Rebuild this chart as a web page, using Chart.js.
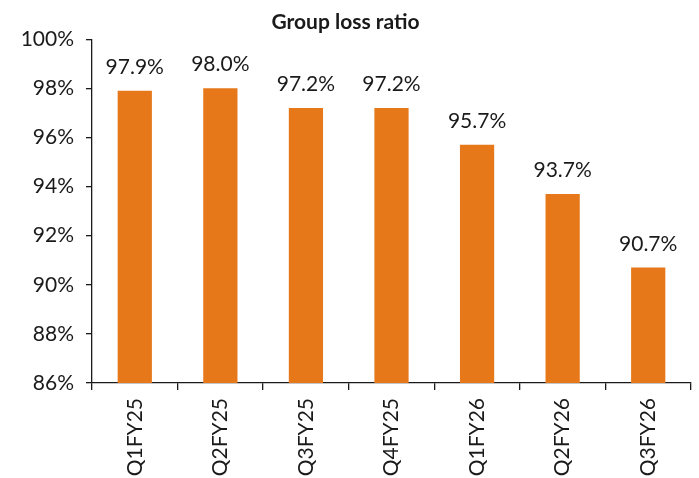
<!DOCTYPE html>
<html>
<head>
<meta charset="utf-8">
<script src="https://cdn.jsdelivr.net/npm/chart.js@4"></script>
<style>
  html, body { margin: 0; padding: 0; background: #fff; }
  #wrap { width: 699px; height: 478px; }
</style>
</head>
<body>
<div id="wrap"><canvas id="lossRatio" width="699" height="478"></canvas></div>
<script>
// quarters and group loss ratio (%)
const quarters = ['Q1FY25', 'Q2FY25', 'Q3FY25', 'Q4FY25', 'Q1FY26', 'Q2FY26', 'Q3FY26'];
const lossRatio = [97.9, 98.0, 97.2, 97.2, 95.7, 93.7, 90.7];
const yTicks = [86, 88, 90, 92, 94, 96, 98, 100];

const textColor = '#1a1a1a';
const fontFamily = 'Lato, "Open Sans", sans-serif';

// writes the value above each bar
const valueLabels = {
    id: 'valueLabels',
    afterDatasetsDraw(chart) {
        const ctx = chart.ctx;
        const meta = chart.getDatasetMeta(0);
        ctx.save();
        ctx.font = '21px ' + fontFamily;
        ctx.fillStyle = textColor;
        ctx.textAlign = 'center';
        ctx.textBaseline = 'alphabetic';
        meta.data.forEach((bar, i) => {
            ctx.fillText(lossRatio[i].toFixed(1) + '%', bar.x, bar.y - 17);
        });
        ctx.restore();
    }
};

const ctx = document.getElementById('lossRatio').getContext('2d');
new Chart(ctx, {
    type: 'bar',
    data: {
        labels: quarters,
        datasets: [{
            data: lossRatio,
            backgroundColor: '#E67819',
            barPercentage: 0.4,
            categoryPercentage: 1.0
        }]
    },
    options: {
        responsive: false,
        animation: false,
        layout: { padding: { left: 0, right: 8, top: 0, bottom: 0 } },
        plugins: {
            legend: { display: false },
            tooltip: { enabled: false },
            title: {
                display: true,
                text: 'Group loss ratio',
                color: textColor,
                font: { family: fontFamily, size: 21, weight: 'bold' },
                padding: { top: 10, bottom: 4 }
            }
        },
        scales: {
            x: {
                border: { color: textColor, width: 1.3 },
                grid: { display: true, drawOnChartArea: false, drawTicks: true, tickLength: 7, color: textColor, lineWidth: 1.3 },
                ticks: {
                    color: textColor,
                    font: { family: fontFamily, size: 21 },
                    minRotation: 90,
                    maxRotation: 90,
                    padding: 8
                },
                afterFit: (scale) => { scale.height = 95; }
            },
            y: {
                min: 86,
                max: 100,
                border: { color: textColor, width: 1.3 },
                grid: { drawOnChartArea: false, drawTicks: true, tickLength: 6, color: textColor, lineWidth: 1.3 },
                afterBuildTicks: (scale) => { scale.ticks = yTicks.map(v => ({ value: v })); },
                ticks: {
                    color: textColor,
                    font: { family: fontFamily, size: 21 },
                    padding: 12,
                    callback: (v) => v + '%'
                },
                afterFit: (scale) => { scale.width = 92; }
            }
        }
    },
    plugins: [valueLabels]
});
</script>
</body>
</html>
